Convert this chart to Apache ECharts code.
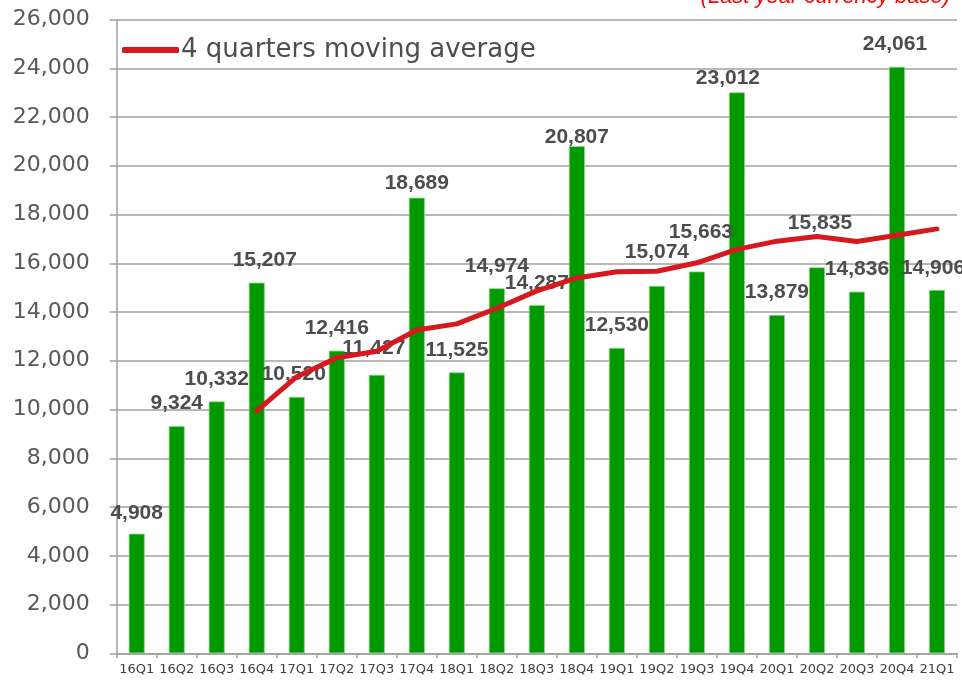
<!DOCTYPE html>
<html>
<head>
    <meta charset="utf-8">
    <title>Quarterly chart</title>
    <script src="https://cdn.jsdelivr.net/npm/echarts@6/dist/echarts.min.js"></script>
    <style>
        *{
            margin: 0;
            padding: 0;
        }
        html,body{
            width: 100%;
            height: 100%;
            overflow: hidden;
            background: #fff;
        }
        .container{
            width: 962px;
            height: 681px;
        }
    </style>
</head>
<body>
<div class="container"></div>

<script>
    // quarters on the x axis
    const quarters = ['16Q1','16Q2','16Q3','16Q4','17Q1','17Q2','17Q3','17Q4','18Q1','18Q2','18Q3',
        '18Q4','19Q1','19Q2','19Q3','19Q4','20Q1','20Q2','20Q3','20Q4','21Q1'];
    // quarterly values (bars)
    const quarterValues = [4908, 9324, 10332, 15207, 10520, 12416, 11427, 18689, 11525, 14974, 14287,
        20807, 12530, 15074, 15663, 23012, 13879, 15835, 14836, 24061, 14906];
    // 4 quarters moving average (red line), starts at 16Q4
    const movingAverage = [null, null, null, 9943, 11346, 12119, 12393, 13263, 13514, 14154, 14869,
        15398, 15650, 15675, 16019, 16570, 16907, 17097, 16891, 17153, 17410];
    const lineName = '4 quarters moving average';

    // small hand nudges of the value labels [dx, dy], like in the original
    const labelNudge = [[0,2],[0,0],[0,0],[8,0],[-3,0],[0,0],[-3,-4],[0,8],[0,0],[0,0],[0,1],
        [0,14],[0,0],[0,-11],[4,-17],[-9,8],[0,0],[3,-22],[0,0],[-2,0],[-4,1]];

    let chart = echarts.init(document.getElementsByClassName('container')[0]);

    let barData = quarterValues.map((v, i) => ({
        value: v,
        label: {offset: labelNudge[i]}
    }));

    let option = {
        animation: false,
        backgroundColor: '#fff',
        title: {
            text: '(Last year currency base)',
            right: 7,
            top: -19,
            textStyle: {
                color: '#ff0000',
                fontStyle: 'italic',
                fontWeight: 'normal',
                fontFamily: 'Liberation Sans',
                fontSize: 22
            }
        },
        legend: {
            data: [{name: lineName, icon: 'roundRect'}],
            left: 122,
            top: 37,
            padding: 0,
            itemWidth: 57,
            itemHeight: 6,
            textStyle: {
                fontFamily: 'DejaVu Sans',
                fontSize: 26,
                color: '#4d4d4d',
                padding: [0, 0, 0, -3]
            }
        },
        grid: {
            left: 116.7,
            right: 5,
            top: 19.5,
            bottom: 27.7
        },
        xAxis: {
            type: 'category',
            data: quarters,
            axisLine: {lineStyle: {color: '#a0a0a0', width: 1.5}},
            axisTick: {show: true, length: 5, lineStyle: {color: '#a0a0a0', width: 1.5}},
            axisLabel: {
                interval: 0,
                margin: 10,
                fontFamily: 'DejaVu Sans',
                fontSize: 13,
                color: '#404040'
            }
        },
        yAxis: {
            type: 'value',
            min: 0,
            max: 26000,
            interval: 2000,
            axisLine: {show: true, lineStyle: {color: '#a0a0a0', width: 1.5}},
            axisTick: {show: true, length: 7, lineStyle: {color: '#a0a0a0', width: 1.5}},
            splitLine: {lineStyle: {color: '#a0a0a0', width: 1.5}},
            axisLabel: {
                margin: 27,
                fontFamily: 'DejaVu Sans',
                fontSize: 22,
                color: '#595959',
                formatter: v => v.toLocaleString('en-US')
            }
        },
        series: [
            {
                name: 'quarter',
                type: 'bar',
                data: barData,
                barWidth: 16,
                itemStyle: {
                    color: '#009900',
                    borderColor: '#8fd68f',
                    borderWidth: 0.8
                },
                label: {
                    show: true,
                    position: 'top',
                    distance: 12,
                    fontFamily: 'Liberation Sans',
                    fontWeight: 'bold',
                    fontSize: 21,
                    color: '#4d4d4d',
                    formatter: p => p.value.toLocaleString('en-US')
                }
            },
            {
                name: lineName,
                type: 'line',
                data: movingAverage,
                showSymbol: false,
                symbol: 'none',
                itemStyle: {color: '#d7191f'},
                lineStyle: {color: '#d7191f', width: 5, cap: 'round', join: 'round'},
                z: 3
            }
        ]
    };
    chart.setOption(option);
</script>
</body>
</html>
